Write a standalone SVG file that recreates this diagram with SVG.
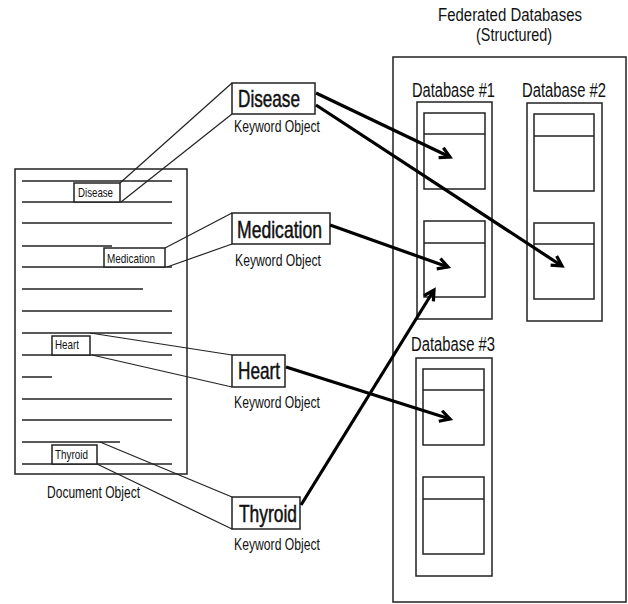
<svg xmlns="http://www.w3.org/2000/svg" width="628" height="604" viewBox="0 0 628 604">
  <style>
    text { font-family: "Liberation Sans", Arial, sans-serif; fill: #111; }
    .box { fill: #fff; stroke: #222; stroke-width: 1.5; }
    .tbl { fill: #fff; stroke: #222; stroke-width: 1.5; }
    .rule { stroke: #222; stroke-width: 1.5; fill: none; }
    .link { stroke: #222; stroke-width: 1.2; fill: none; }
    .arrow { stroke: #000; stroke-width: 3.2; fill: none; marker-end: url(#head); }
    .kw { font-size: 24px; stroke: #111; stroke-width: 0.5; }
    .sub { font-size: 16.5px; }
    .tag { font-size: 13px; }
    .db { font-size: 20px; }
  </style>
  <defs>
    <marker id="head" markerUnits="userSpaceOnUse" markerWidth="16" markerHeight="16" refX="12" refY="7" orient="auto">
      <path d="M2,1.5 L12,7 L2,12.5" fill="none" stroke="#000" stroke-width="3.2" stroke-linejoin="miter"/>
    </marker>
  </defs>

  <!-- Document object: a page of text lines with tagged terms -->
  <g id="document">
    <rect class="box" x="15" y="169" width="172" height="305"/>
    <g class="rule">
      <line x1="22" y1="181" x2="172" y2="181"/>
      <line x1="22" y1="202" x2="172" y2="202"/>
      <line x1="22" y1="223" x2="172" y2="223"/>
      <line x1="22" y1="246" x2="112" y2="246"/>
      <line x1="22" y1="267" x2="172" y2="267"/>
      <line x1="22" y1="289" x2="143" y2="289"/>
      <line x1="22" y1="311" x2="172" y2="311"/>
      <line x1="22" y1="333" x2="172" y2="333"/>
      <line x1="22" y1="355" x2="172" y2="355"/>
      <line x1="22" y1="377" x2="52" y2="377"/>
      <line x1="22" y1="399" x2="172" y2="399"/>
      <line x1="22" y1="420" x2="172" y2="420"/>
      <line x1="22" y1="442" x2="120" y2="442"/>
      <line x1="22" y1="464" x2="172" y2="464"/>
    </g>
    <rect class="box" x="74" y="183" width="46" height="19"/>
    <text class="tag" x="78" y="197" textLength="35" lengthAdjust="spacingAndGlyphs">Disease</text>
    <rect class="box" x="104" y="248" width="61" height="19"/>
    <text class="tag" x="107" y="263" textLength="48" lengthAdjust="spacingAndGlyphs">Medication</text>
    <rect class="box" x="52" y="336" width="38" height="19"/>
    <text class="tag" x="55" y="349" textLength="24" lengthAdjust="spacingAndGlyphs">Heart</text>
    <rect class="box" x="52" y="445" width="45" height="19"/>
    <text class="tag" x="55" y="459" textLength="33" lengthAdjust="spacingAndGlyphs">Thyroid</text>
    <text x="47" y="498" font-size="17" textLength="93" lengthAdjust="spacingAndGlyphs">Document Object</text>
  </g>

  <!-- Keyword objects -->
  <g id="kw-disease">
    <rect class="box" x="232" y="83" width="83" height="31"/>
    <text class="kw" x="238" y="107" textLength="62" lengthAdjust="spacingAndGlyphs">Disease</text>
    <text class="sub" x="234" y="132" textLength="86" lengthAdjust="spacingAndGlyphs">Keyword Object</text>
  </g>
  <g id="kw-medication">
    <rect class="box" x="232" y="213" width="98" height="31"/>
    <text class="kw" x="237" y="238" textLength="85" lengthAdjust="spacingAndGlyphs">Medication</text>
    <text class="sub" x="235" y="266" textLength="86" lengthAdjust="spacingAndGlyphs">Keyword Object</text>
  </g>
  <g id="kw-heart">
    <rect class="box" x="232" y="355" width="53" height="32"/>
    <text class="kw" x="238" y="379" textLength="42" lengthAdjust="spacingAndGlyphs">Heart</text>
    <text class="sub" x="234" y="408" textLength="86" lengthAdjust="spacingAndGlyphs">Keyword Object</text>
  </g>
  <g id="kw-thyroid">
    <rect class="box" x="232" y="497" width="68" height="32"/>
    <text class="kw" x="239" y="522" textLength="58" lengthAdjust="spacingAndGlyphs">Thyroid</text>
    <text class="sub" x="234" y="550" textLength="86" lengthAdjust="spacingAndGlyphs">Keyword Object</text>
  </g>

  <!-- Federated structured databases -->
  <g id="federated">
    <text x="510" y="21" font-size="17.5" text-anchor="middle" textLength="144" lengthAdjust="spacingAndGlyphs">Federated Databases</text>
    <text x="514" y="41" font-size="17.5" text-anchor="middle" textLength="76" lengthAdjust="spacingAndGlyphs">(Structured)</text>
    <rect class="box" x="393" y="57" width="233" height="545"/>
  </g>
  <g id="db1">
    <text class="db" x="412" y="97" textLength="83" lengthAdjust="spacingAndGlyphs">Database #1</text>
    <rect class="box" x="417" y="102" width="75" height="217"/>
    <rect class="tbl" x="424" y="113" width="61" height="76"/>
    <line class="rule" x1="424" y1="134" x2="485" y2="134"/>
    <rect class="tbl" x="424" y="221" width="61" height="76"/>
    <line class="rule" x1="424" y1="243" x2="485" y2="243"/>
  </g>
  <g id="db2">
    <text class="db" x="522" y="97" textLength="84" lengthAdjust="spacingAndGlyphs">Database #2</text>
    <rect class="box" x="527" y="103" width="75" height="218"/>
    <rect class="tbl" x="534" y="114" width="60" height="77"/>
    <line class="rule" x1="534" y1="136" x2="594" y2="136"/>
    <rect class="tbl" x="534" y="223" width="60" height="76"/>
    <line class="rule" x1="534" y1="244" x2="594" y2="244"/>
  </g>
  <g id="db3">
    <text class="db" x="411" y="351" textLength="84" lengthAdjust="spacingAndGlyphs">Database #3</text>
    <rect class="box" x="416" y="358" width="76" height="218"/>
    <rect class="tbl" x="423" y="369" width="61" height="76"/>
    <line class="rule" x1="423" y1="390" x2="484" y2="390"/>
    <rect class="tbl" x="423" y="477" width="61" height="77"/>
    <line class="rule" x1="423" y1="499" x2="484" y2="499"/>
  </g>

  <!-- Connectors: term extraction lines and keyword-to-table mappings -->
  <g id="connectors">
    <line class="link" x1="120" y1="183" x2="232" y2="83"/>
    <line class="link" x1="121" y1="202" x2="232" y2="114"/>
    <line class="link" x1="165" y1="248" x2="232" y2="213"/>
    <line class="link" x1="167" y1="267" x2="232" y2="244"/>
    <line class="link" x1="90" y1="333" x2="232" y2="355"/>
    <line class="link" x1="92" y1="355" x2="232" y2="387"/>
    <line class="link" x1="100" y1="442" x2="232" y2="497"/>
    <line class="link" x1="97" y1="464" x2="232" y2="529"/>

    <line class="arrow" x1="316" y1="93" x2="450" y2="157"/>
    <line class="arrow" x1="316" y1="105" x2="562" y2="266"/>
    <line class="arrow" x1="330" y1="225" x2="448" y2="267"/>
    <line class="arrow" x1="286" y1="367" x2="450" y2="419"/>
    <line class="arrow" x1="301" y1="505" x2="434" y2="290"/>
  </g>
</svg>
